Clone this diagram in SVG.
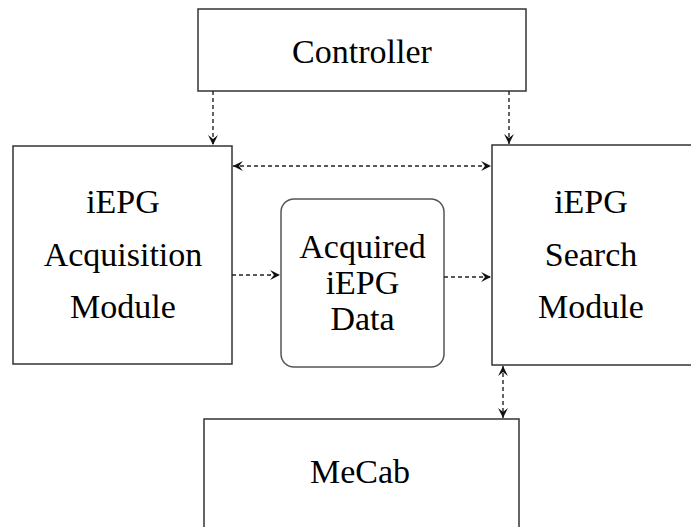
<svg xmlns="http://www.w3.org/2000/svg" width="691" height="527" viewBox="0 0 691 527">
<style>
.box{fill:#fff;stroke:#333;stroke-width:1.5}
.rbox{fill:#fff;stroke:#555;stroke-width:1.5}
.t{font-family:"Liberation Serif","Times New Roman",serif;font-size:34px;fill:#000;text-anchor:middle}
.c{fill:none;stroke:#222;stroke-width:1.4;stroke-dasharray:4,3}
</style>
<defs>
<marker id="ah" viewBox="0 0 10 10" refX="9.5" refY="5" markerWidth="11" markerHeight="11" markerUnits="userSpaceOnUse" orient="auto-start-reverse">
<path d="M0.5,0.5 L9.5,5 L0.5,9.5 L4,5 Z" fill="#111"/>
</marker>
</defs>
<rect width="691" height="527" fill="#fff"/>
<g id="controller">
<rect class="box" x="198" y="9" width="328" height="82"/>
<text class="t" x="362" y="63">Controller</text>
</g>
<g id="acquisition">
<rect class="box" x="13" y="146" width="219" height="218"/>
<text class="t" x="123" y="213">iEPG</text>
<text class="t" x="123" y="266">Acquisition</text>
<text class="t" x="123" y="318">Module</text>
</g>
<g id="data">
<rect class="rbox" x="281" y="199" width="163" height="168" rx="13"/>
<text class="t" x="362.5" y="258">Acquired</text>
<text class="t" x="362.5" y="294">iEPG</text>
<text class="t" x="362.5" y="330">Data</text>
</g>
<g id="search">
<rect class="box" x="492" y="145" width="206" height="220"/>
<text class="t" x="591" y="213">iEPG</text>
<text class="t" x="591" y="266">Search</text>
<text class="t" x="591" y="318">Module</text>
</g>
<g id="mecab">
<rect class="box" x="204" y="419" width="315" height="120"/>
<text class="t" x="360" y="483">MeCab</text>
</g>
<g id="connectors">
<line class="c" x1="213" y1="91" x2="213" y2="145" marker-end="url(#ah)"/>
<line class="c" x1="509" y1="91" x2="509" y2="144" marker-end="url(#ah)"/>
<line class="c" x1="233" y1="166" x2="491" y2="166" marker-start="url(#ah)" marker-end="url(#ah)"/>
<line class="c" x1="232" y1="275" x2="280" y2="275" marker-end="url(#ah)"/>
<line class="c" x1="444" y1="277" x2="491" y2="277" marker-end="url(#ah)"/>
<line class="c" x1="503" y1="366" x2="503" y2="418" marker-start="url(#ah)" marker-end="url(#ah)"/>
</g>
</svg>
